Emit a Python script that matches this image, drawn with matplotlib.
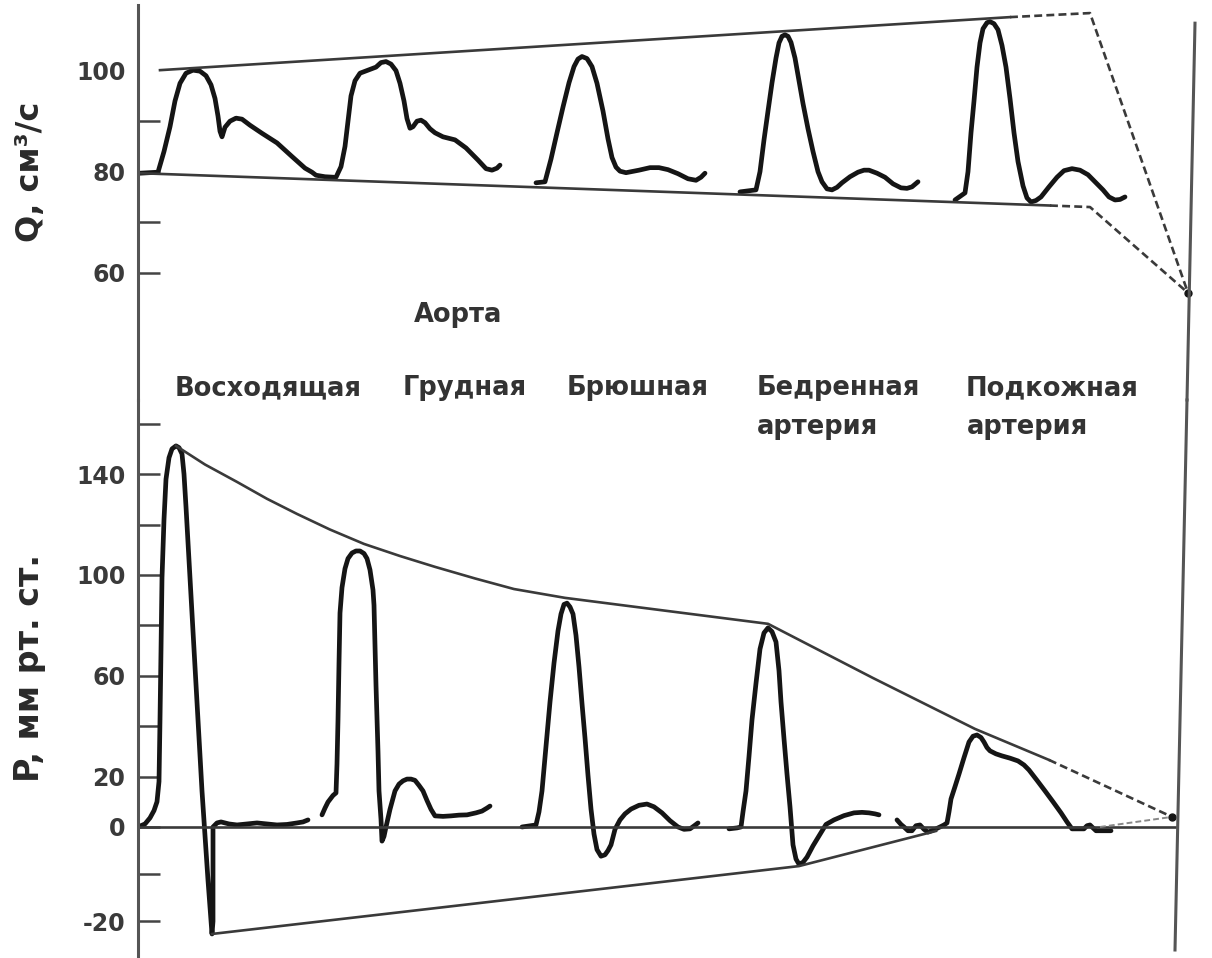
import numpy as np
import matplotlib
matplotlib.use("Agg")
from matplotlib import pyplot as plt
from matplotlib.ticker import FixedLocator, FixedFormatter

# --- Q, cm3/s (blood flow) traces; x = position along the arterial tree
q1_x = [140, 158, 164, 170, 175, 180, 186, 193, 200, 206, 211, 215, 218, 220, 222, 225, 230, 236, 242,
        250, 262, 277, 292, 305, 312, 316, 325, 334]
q1_v = [79.7, 79.9, 84.0, 88.9, 94.0, 97.5, 99.5, 100.1, 99.9, 99.0, 97.2, 94.5, 91.0, 88.0, 86.9, 88.8, 90.0,
        90.6, 90.4, 89.2, 87.6, 85.7, 83.0, 80.7, 79.9, 79.3, 79.0, 78.9]
q2_x = [336, 341, 345, 348, 351, 355, 360, 368, 376, 381, 386, 391, 396, 400, 404, 407, 410, 413, 417, 421,
        425, 430, 435, 443, 455, 466, 478, 486, 492, 497, 500]
q2_v = [78.9, 81.0, 85.0, 90.0, 95.0, 98.0, 99.5, 100.1, 100.7, 101.6, 101.8, 101.3, 100.0, 97.5, 94.0, 90.5,
        88.6, 88.9, 90.0, 90.2, 89.7, 88.5, 87.7, 86.9, 86.3, 84.7, 82.3, 80.6, 80.3, 80.7, 81.3]
q3_x = [536, 545, 551, 557, 563, 569, 574, 578, 582, 587, 592, 597, 603, 608, 612, 616, 620, 626, 639, 650,
        659, 668, 678, 688, 696, 701, 705]
q3_v = [77.8, 78.0, 82.5, 87.7, 92.8, 97.6, 100.8, 102.3, 102.8, 102.4, 100.8, 97.5, 92.0, 86.5, 82.8, 80.9,
        80.1, 79.8, 80.3, 80.8, 80.8, 80.4, 79.6, 78.6, 78.3, 78.9, 79.7]
q4_x = [740, 756, 760, 764, 768, 772, 776, 779, 782, 785, 788, 791, 795, 799, 803, 808, 813, 818, 822, 827,
        832, 837, 842, 850, 858, 864, 869, 877, 885, 893, 901, 907, 912, 918]
q4_v = [76.0, 76.4, 80.0, 86.3, 92.0, 97.6, 102.5, 105.5, 106.8, 107.1, 106.8, 105.6, 102.5, 98.0, 93.5, 88.5,
        84.0, 80.0, 78.0, 76.6, 76.4, 76.9, 77.8, 79.0, 79.9, 80.3, 80.3, 79.7, 78.9, 77.6, 76.8, 76.7, 77.0, 78.0]
q5_x = [955, 965, 968, 971, 974, 977, 980, 983, 987, 990, 994, 998, 1002, 1006, 1010, 1014, 1018, 1023, 1027,
        1031, 1036, 1041, 1049, 1057, 1064, 1072, 1080, 1088, 1096, 1103, 1109, 1115, 1120, 1125]
q5_v = [74.4, 75.8, 80.0, 87.7, 94.0, 100.7, 105.5, 108.3, 109.5, 109.7, 109.3, 108.1, 105.0, 100.7, 94.5,
        87.7, 82.0, 77.2, 74.8, 74.0, 74.3, 75.0, 77.0, 78.9, 80.2, 80.6, 80.3, 79.4, 77.8, 76.4, 75.0, 74.4,
        74.5, 75.0]

q_top_x = [160, 1010]
q_top_v = [100.1, 110.6]
q_top_dash_x = [1010, 1090, 1188]
q_top_dash_v = [110.6, 111.4, 56.0]
q_low_x = [140, 1050]
q_low_v = [79.7, 73.3]
q_low_dash_x = [1050, 1090, 1188]
q_low_dash_v = [73.3, 73.0, 56.0]

# --- P, mm Hg (pressure) traces
p1_x = [138, 145, 150, 154, 157, 159, 160, 161, 162, 164, 166, 169, 172, 176, 179, 182, 184, 186, 194, 202,
        208, 212, 213, 213, 217, 221, 229, 237, 247, 257, 267, 277, 287, 297, 303, 308]
p1_v = [0, 1.2, 3.6, 6.5, 10.0, 18.0, 42.5, 70.0, 98.8, 122.0, 138.0, 146.5, 150.0, 151.2, 150.5, 148.0,
        140.0, 127.0, 70.6, 14.3, -11.3, -22.7, -20.0, 0, 1.6, 2.0, 1.2, 0.8, 1.2, 1.6, 1.2, 0.8, 1.0, 1.6,
        2.0, 2.8]
p2_x = [322, 325, 328, 333, 336, 337, 338, 339, 340, 342, 345, 348, 352, 356, 360, 364, 367, 370, 373, 374,
        375, 376, 378, 379, 381, 382, 384, 386, 390, 395, 399, 403, 407, 411, 415, 419, 423, 427, 431, 435,
        443, 451, 459, 467, 476, 482, 487, 490]
p2_v = [4.8, 7.5, 9.9, 12.5, 13.5, 25.0, 42.5, 65.0, 84.9, 95.0, 102.5, 106.5, 108.7, 109.5, 109.5, 108.5,
        106.5, 102.0, 94.0, 88.0, 72.0, 56.3, 30.0, 14.3, 3.0, -3.0, -2.0, 0, 7.0, 14.3, 17.0, 18.3, 19.0,
        19.0, 18.5, 16.5, 14.3, 10.5, 7.0, 4.4, 4.2, 4.4, 4.7, 4.8, 5.6, 6.3, 7.5, 8.3]
p3_x = [522, 536, 539, 542, 546, 550, 554, 558, 561, 564, 567, 570, 573, 576, 579, 582, 585, 588, 591, 594,
        597, 601, 605, 608, 611, 615, 620, 625, 631, 639, 647, 654, 662, 670, 678, 684, 690, 694, 698]
p3_v = [0, 0.8, 6.0, 14.3, 32.0, 49.6, 65.0, 77.8, 84.5, 88.3, 88.8, 87.3, 84.5, 76.0, 63.5, 49.0, 35.3,
        20.5, 7.1, -1.5, -4.8, -6.2, -5.9, -5.0, -3.8, -0.5, 2.8, 5.2, 7.1, 8.6, 9.1, 8.0, 5.6, 2.5, 0, -0.5,
        -0.4, 0.4, 1.6]
p4_x = [729, 737, 741, 743, 746, 749, 752, 756, 760, 764, 768, 772, 776, 779, 781, 784, 787, 790, 793, 796,
        799, 803, 807, 813, 819, 826, 834, 844, 854, 862, 869, 875, 879]
p4_v = [-0.4, -0.2, 0, 6.0, 14.3, 28.0, 42.5, 57.0, 70.6, 77.0, 79.0, 77.5, 73.4, 62.0, 49.6, 35.0, 21.0,
        8.0, -3.8, -6.8, -7.9, -7.5, -6.4, -4.0, -1.9, 1.0, 2.8, 4.5, 5.6, 5.8, 5.6, 5.2, 4.8]
p5_x = [897, 901, 904, 908, 912, 916, 920, 924, 928, 934, 940, 944, 947, 949, 951, 955, 959, 964, 969, 973,
        977, 981, 984, 987, 990, 996, 1002, 1010, 1018, 1024, 1029, 1037, 1045, 1053, 1061, 1067, 1072, 1078,
        1084, 1087, 1090, 1093, 1096, 1104, 1111]
p5_v = [2.8, 1.0, 0, -0.8, -0.8, 0.5, 0.8, -0.5, -1.1, -0.6, 0, 0.8, 1.6, 6.0, 11.1, 16.0, 21.0, 27.5, 33.7,
        36.0, 36.5, 35.5, 33.7, 31.5, 30.2, 29.0, 28.2, 27.3, 26.2, 24.6, 22.6, 18.5, 14.3, 10.0, 5.6, 2.0,
        -0.4, -0.4, -0.4, 0.5, 0.8, -0.2, -0.8, -0.8, -0.8]

p_top_x = [176, 205, 237, 267, 297, 330, 364, 400, 435, 475, 514, 565, 620, 768, 873, 975, 1049]
p_top_v = [151.2, 143.8, 136.9, 130.2, 124.2, 118.0, 112.3, 107.5, 103.2, 98.6, 94.4, 90.9, 88.1, 80.6,
           59.1, 38.9, 26.6]
p_top_dash_x = [1049, 1172]
p_top_dash_v = [26.6, 4.0]
p_low_x = [212, 799, 936]
p_low_v = [-22.7, -8.3, -0.85]
p_zero_x = [138, 1175]
p_base_dash_x = [1100, 1172]
p_base_dash_v = [0, 4.0]

vessels = ["Восходящая", "Грудная", "Брюшная", "Бедренная", "Подкожная"]
vessels_x = [268, 465, 638, 838, 1052]
sub_labels = ["артерия", "артерия"]
sub_x = [818, 1028]

ink = "#151515"
grey = "#3a3a3a"
wave_lw = 3.4
env_lw = 1.9
font = "DejaVu Sans"

fig = plt.figure(figsize=(12.12, 9.58), dpi=100)
left = 138 / 1212
ax_q = fig.add_axes([left, 558 / 958, 1 - left, 395 / 958])
ax_p = fig.add_axes([left, 0, 1 - left, 558 / 958])

# below zero the pressure scale is stretched in the original drawing
stretch = 1.87
ax_p.set_yscale("function", functions=(lambda y: np.where(y >= 0, y, stretch * y),
                                       lambda y: np.where(y >= 0, y, y / stretch)))

for ax in (ax_q, ax_p):
    ax.set_xlim(138, 1212)
    ax.set_xticks([])
    for s in ("top", "right", "bottom"):
        ax.spines[s].set_visible(False)
    ax.spines["left"].set_linewidth(2.2)
    ax.spines["left"].set_color("#555555")
    ax.patch.set_alpha(0)
    ax.tick_params(axis="y", which="both", direction="in", length=16, width=1.8,
                   color="#444444", labelsize=17, labelcolor="#3a3a3a", pad=9)
    for lab in ax.get_yticklabels():
        lab.set_fontweight("bold")

ax_q.set_ylim(34.8, 113.0)
ax_q.yaxis.set_major_locator(FixedLocator([60, 80, 100]))
ax_q.yaxis.set_major_formatter(FixedFormatter(["60", "80", "100"]))
ax_q.yaxis.set_minor_locator(FixedLocator([70, 90]))
ax_q.yaxis.get_major_ticks()[2].tick1line.set_visible(False)

ax_p.set_ylim(-27.8, 169.4)
ax_p.yaxis.set_major_locator(FixedLocator([-20, 0, 20, 60, 100, 140]))
ax_p.yaxis.set_major_formatter(FixedFormatter(["-20", "0", "20", "60", "100", "140"]))
ax_p.yaxis.set_minor_locator(FixedLocator([-10, 40, 80, 120, 160]))

for ax in (ax_q, ax_p):
    for lab in ax.get_yticklabels():
        lab.set_fontweight("bold")

# flow waves
for xs, vs in [(q1_x, q1_v), (q2_x, q2_v), (q3_x, q3_v), (q4_x, q4_v), (q5_x, q5_v)]:
    ax_q.plot(xs, vs, color=ink, lw=wave_lw, solid_joinstyle="round", solid_capstyle="round")
ax_q.plot(q_top_x, q_top_v, color=grey, lw=env_lw)
ax_q.plot(q_low_x, q_low_v, color=grey, lw=env_lw)
ax_q.plot(q_top_dash_x, q_top_dash_v, color=grey, lw=env_lw, ls=(0, (3, 1.6)))
ax_q.plot(q_low_dash_x, q_low_dash_v, color=grey, lw=env_lw, ls=(0, (3, 1.6)))
ax_q.plot([1188], [56.0], "o", color=ink, ms=5)
ax_q.plot([1195, 1187], [109.4, 34.8], color="#555555", lw=2.2, clip_on=False)

# pressure waves
for xs, vs in [(p1_x, p1_v), (p2_x, p2_v), (p3_x, p3_v), (p4_x, p4_v), (p5_x, p5_v)]:
    ax_p.plot(xs, vs, color=ink, lw=wave_lw, solid_joinstyle="round", solid_capstyle="round")
ax_p.plot(p_zero_x, [0, 0], color=grey, lw=env_lw)
ax_p.plot(p_top_x, p_top_v, color=grey, lw=env_lw)
ax_p.plot(p_top_dash_x, p_top_dash_v, color=grey, lw=env_lw, ls=(0, (3, 1.6)))
ax_p.plot(p_low_x, p_low_v, color=grey, lw=env_lw)
ax_p.plot(p_base_dash_x, p_base_dash_v, color="#888888", lw=1.4, ls=(0, (3, 1.6)))
ax_p.plot([1172], [4.0], "o", color=ink, ms=5)
ax_p.plot([1187, 1175], [169.4, -26.1], color="#555555", lw=2.2, clip_on=False)

# labels
txt = dict(family=font, fontsize=18.5, fontweight="bold", color="#333333", ha="center", va="center")
ax_q.text(458, 51.6, "Аорта", **txt)
for name, x in zip(vessels, vessels_x):
    ax_q.text(x, 37.2, name, **txt)
for name, x in zip(sub_labels, sub_x):
    ax_q.text(x, 29.4, name, **txt)

fig.text(30 / 1212, 1 - 172 / 958, "Q, см³/с", rotation=90, ha="center", va="center",
         family=font, fontsize=23, fontweight="bold", color="#2a2a2a")
fig.text(30 / 1212, 1 - 668 / 958, "P, мм рт. ст.", rotation=90, ha="center", va="center",
         family=font, fontsize=24, fontweight="bold", color="#2a2a2a")

fig.savefig("out.png", dpi=100)
